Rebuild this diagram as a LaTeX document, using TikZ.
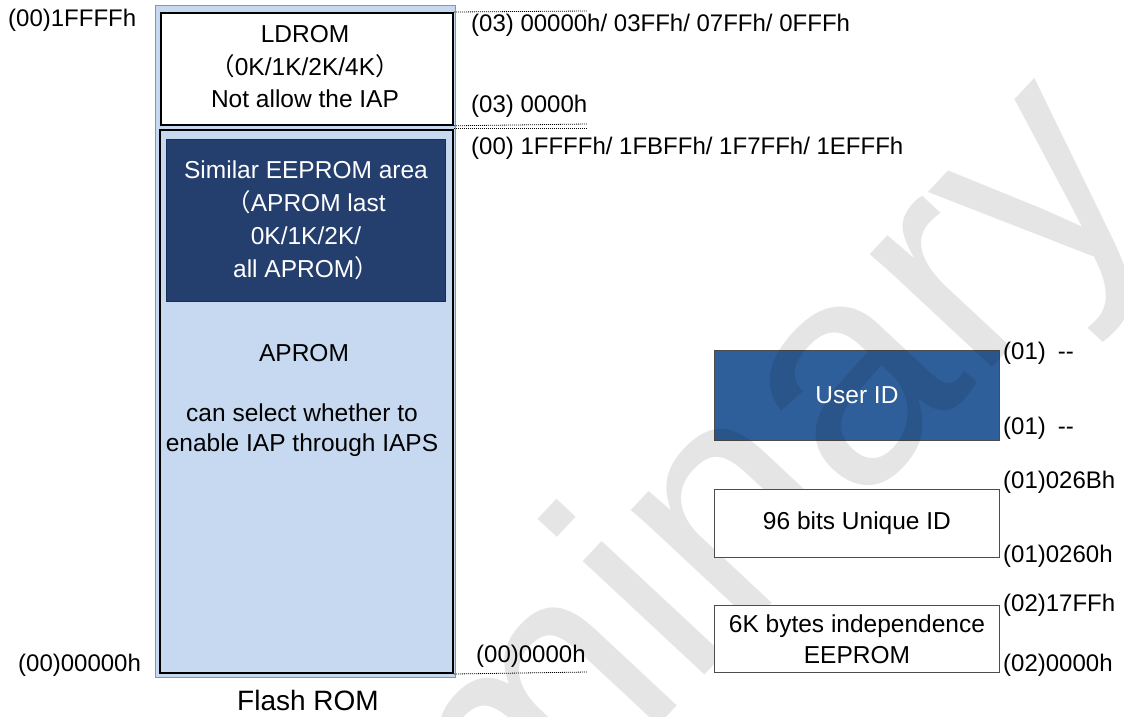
\documentclass[tikz,border=0pt]{standalone}
\usepackage{fontspec}
\setmainfont{Liberation Sans}
\newfontfamily\cjk{Noto Sans CJK SC}
\definecolor{lb}{HTML}{C6D9F0}
\definecolor{frameb}{HTML}{8497B0}
\definecolor{navy}{HTML}{243F6E}
\definecolor{navyline}{HTML}{1A2E52}
\definecolor{uidblue}{HTML}{2F5F9B}
\begin{document}
\begin{tikzpicture}[x=1pt,y=-1pt,
  lbl/.style={font=\fontsize{24}{28}\selectfont, inner sep=0pt, anchor=west},
  region/.style={anchor=north west, inner sep=0pt, align=center},
  txt/.style={font=\fontsize{24.5}{#1}\selectfont, align=center, inner sep=0pt},
  txt/.default=33,
  dotline/.style={line width=0.8pt, dash pattern=on 1pt off 1pt},
  sidebox/.style={region, draw=black!70, line width=0.9pt}
]
\useasboundingbox (0,0) rectangle (1124,716);
\clip (0,0) rectangle (1124,716);

% User ID box (the watermark shows over it)
\node[sidebox, fill=uidblue, minimum width=285pt, minimum height=90pt] (uid) at (714,350) {};

% watermark
\node[rotate=47, font=\fontsize{315}{315}\selectfont, text=black, text opacity=0.1, inner sep=0pt] (wm) at (560,712) {Preliminary};

\node[txt, text=white] (uidtxt) at (uid.center) {User ID};

% Flash ROM column
\node[region, fill=lb, draw=frameb, line width=1.2pt, minimum width=300pt, minimum height=672pt] (flash) at (155,5) {};
\node[region, fill=white, draw=black, line width=1.8pt, minimum width=292pt, minimum height=112pt] (ldrom) at (160,12) {};
\node[txt=32.5] (ldromtxt) at (305,67) {LDROM\\{\cjk （}0K/1K/2K/4K{\cjk ）}\\Not allow the IAP};
\node[region, fill=lb, draw=black, line width=2pt, minimum width=293pt, minimum height=543pt] (aprom) at (159,129) {};
\node[region, fill=navy, draw=navyline, line width=1pt, minimum width=279pt, minimum height=162pt] (eearea) at (166,139) {};
\node[txt, text=white] (eetxt) at (eearea.center) {Similar EEPROM area\\{\cjk （}APROM last\\0K/1K/2K/\\all APROM{\cjk ）}};
\node[txt] (aptitle) at (304,353) {APROM};
\node[txt=30] (aptxt) at (302,430) {can select whether to\\enable IAP through IAPS};
\node[font=\fontsize{28}{32}\selectfont, inner sep=0pt] (flashlbl) at (308,700) {Flash ROM};

% left labels
\node[lbl] (ltop) at (8,20) {(00)1FFFFh};
\node[lbl] (lbot) at (18,665) {(00)00000h};

% dotted address lines
\coordinate (d1) at (587,11);
\coordinate (d2) at (587,124);
\coordinate (d3) at (587,128);
\coordinate (d4) at (587,672);
\draw[dotline] (ldrom.north east) -- (d1);
\draw[dotline] (ldrom.south east) -- (d2);
\draw[dotline] (aprom.north east) ++(0,-1) -- (d3);
\draw[dotline] (aprom.south east) -- (d4);

\node[lbl] (a1) at (471,25) {(03) 00000h/ 03FFh/ 07FFh/ 0FFFh};
\node[lbl] (a2) at (471,106) {(03) 0000h};
\node[lbl] (a3) at (471,148) {(00) 1FFFFh/ 1FBFFh/ 1F7FFh/ 1EFFFh};
\node[lbl] (a4) at (476,656) {(00)0000h};

% right side boxes
\node[sidebox, fill=white, minimum width=285pt, minimum height=68pt] (uniq) at (714,489) {};
\node[txt] (uniqtxt) at (uniq.center) {96 bits Unique ID};
\node[sidebox, fill=white, minimum width=285pt, minimum height=67pt] (eep) at (714,605) {};
\node[txt=31] (eeptxt) at (eep.center) {6K bytes independence\\EEPROM};

\node[lbl] (r1) at (1003,353) {(01)\hspace{12pt}-{}-};
\node[lbl] (r2) at (1003,428) {(01)\hspace{12pt}-{}-};
\node[lbl] (r3) at (1003,482) {(01)026Bh};
\node[lbl] (r4) at (1003,556) {(01)0260h};
\node[lbl] (r5) at (1003,605) {(02)17FFh};
\node[lbl] (r6) at (1003,665) {(02)0000h};
\end{tikzpicture}
\end{document}
